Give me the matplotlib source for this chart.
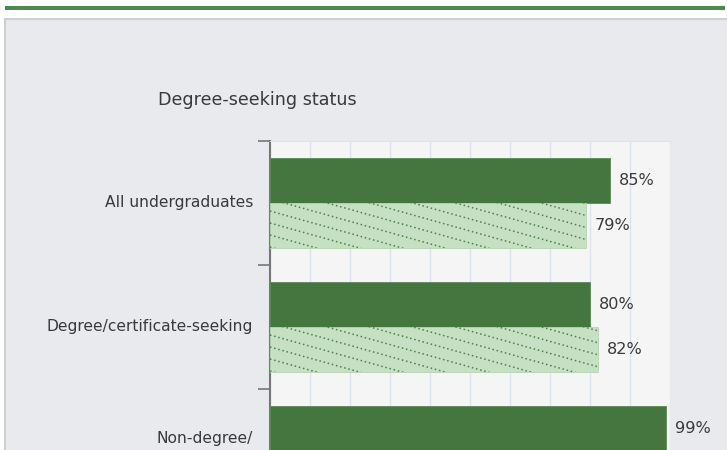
import numpy as np
import matplotlib
matplotlib.use("Agg")
import matplotlib.pyplot as plt
from matplotlib.patches import Rectangle

# data (the chart is cut off at the bottom)
categories = ["All undergraduates", "Degree/certificate-seeking", "Non-degree/\ncertificate-seeking"]
solid_vals = [85, 80, 99]
hatched_vals = [79, 82]
title = "Degree-seeking status"

dark = "#467640"
light = "#c5e0c3"
dots = "#4f8249"
txt = "#3a3a3a"

plt.rcParams["font.family"] = ["DejaVu Sans"]
plt.rcParams["font.size"] = 11.6

W, H = 727, 450
fig = plt.figure(figsize=(W / 100, H / 100), dpi=100)
fig.patch.set_facecolor("white")

# outer panel and green rule on top
fig.patches.append(Rectangle((5 / W, -0.1), 1.0, (H - 19) / H + 0.1, transform=fig.transFigure,
                             facecolor="#e9eaee", edgecolor="#d0d0d0", lw=1.5, zorder=-2))
fig.patches.append(Rectangle((5 / W, (H - 9.7) / H), 720 / W, 4 / H, transform=fig.transFigure,
                             facecolor="#4b8a4a", edgecolor="none", zorder=-2))

# plot area: x 270..670 px, top at 141 px, 124 px per category
top, step = 141, 124
n = len(categories)
ax = fig.add_axes([270 / W, (H - top - n * step) / H, 400 / W, n * step / H])
ax.set_facecolor("#f5f5f5")
ax.set_xlim(0, 100)
ax.set_ylim(n - 0.5, -0.5)

bh = 45 / step
y = np.arange(n)
b1 = ax.barh(y - bh / 2, solid_vals, height=bh, color=dark, edgecolor="#5a8a54", lw=0.6, zorder=3)
yh = np.arange(len(hatched_vals))
b2 = ax.barh(yh + bh / 2, hatched_vals, height=bh, color=light, edgecolor="#b5d4b2", lw=0.6, zorder=3)

# dotted diagonal hatch, clipped to each light bar
slope = 0.28 * 4 / step
gap = 12 / step
for p in b2.patches:
    y0 = p.get_y()
    for s in np.arange(y0 - slope * 100, y0 + p.get_height() + gap, gap):
        ln, = ax.plot([0, 100], [s, s + slope * 100], color=dots, lw=1.1,
                      linestyle=(0, (1, 1.8)), zorder=4)
        ln.set_clip_path(p)

for v, yy in zip(solid_vals, y - bh / 2):
    ax.annotate(f"{v}%", (v, yy), xytext=(6.5, 0), textcoords="offset points",
                va="center", ha="left", color=txt)
for v, yy in zip(hatched_vals, yh + bh / 2):
    ax.annotate(f"{v}%", (v, yy), xytext=(6.5, 0), textcoords="offset points",
                va="center", ha="left", color=txt)

ax.set_xticks(np.arange(0, 101, 10))
ax.tick_params(axis="x", length=0, labelbottom=False)
ax.grid(axis="x", color="#dde3ee", lw=1, zorder=1)

ax.set_yticks(np.arange(n + 1) - 0.5)
ax.set_yticklabels([])
ax.set_yticks(y, minor=True)
ax.set_yticklabels(categories, minor=True, color=txt, fontsize=11.2, linespacing=1.85)
for lab in ax.get_yticklabels(minor=True):
    lab.set_va("center")
ax.tick_params(axis="y", which="major", length=9, width=1.2, color="#777777", direction="out")
ax.tick_params(axis="y", which="minor", length=0, pad=12)

for s in ["right", "bottom"]:
    ax.spines[s].set_visible(False)
ax.spines["top"].set_color("#e2e2e2")
ax.spines["left"].set_color("#777777")
ax.spines["left"].set_linewidth(1.5)

fig.text(158 / W, (H - 100) / H, title, ha="left", va="center", color=txt, fontsize=12.6)

fig.savefig("out.png", dpi=100)
